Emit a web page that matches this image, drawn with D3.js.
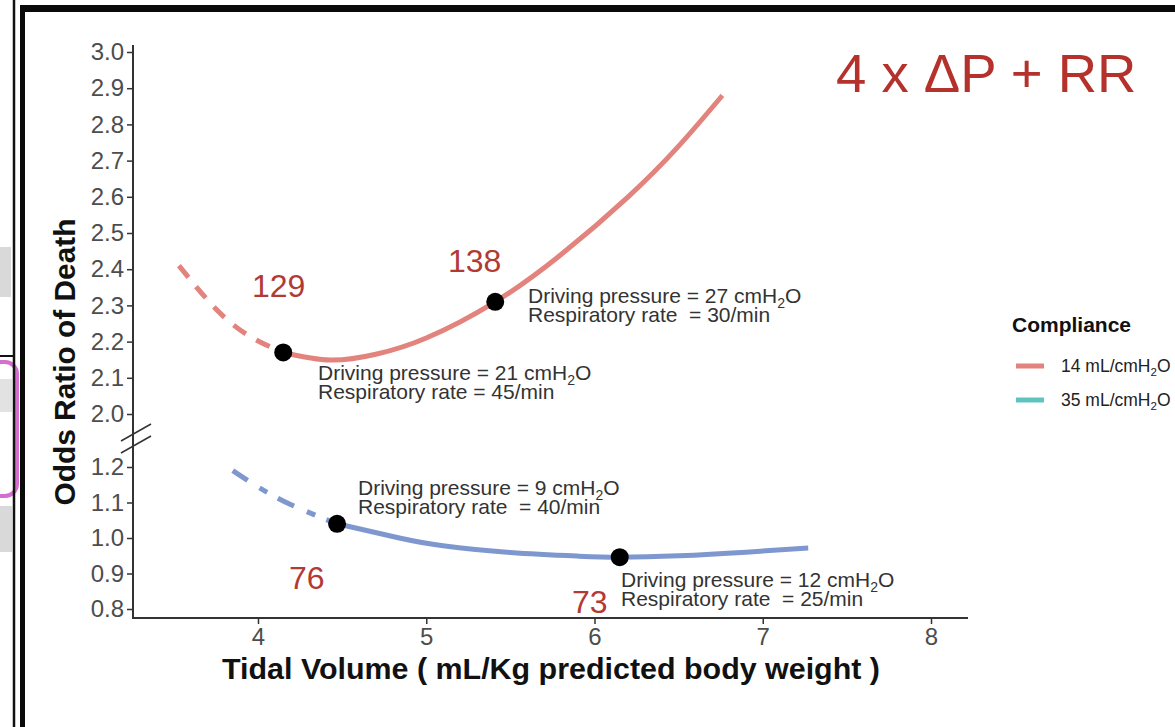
<!DOCTYPE html>
<html>
<head>
<meta charset="utf-8">
<script src="https://cdn.jsdelivr.net/npm/d3@7"></script>
<style>
  html, body { margin: 0; padding: 0; background: #fff; }
  svg { display: block; font-family: "Liberation Sans", Arial, Helvetica, sans-serif; }
</style>
</head>
<body>
<svg id="chart" width="1175" height="727"></svg>
<script>
// ---------------- data ----------------
const xTicks = [4, 5, 6, 7, 8];
const yTicksUpper = [2.0, 2.1, 2.2, 2.3, 2.4, 2.5, 2.6, 2.7, 2.8, 2.9, 3.0];
const yTicksLower = [0.8, 0.9, 1.0, 1.1, 1.2];

// Compliance 14 mL/cmH2O (upper panel)
const red14Dashed = [[3.53, 2.41], [3.75, 2.29], [3.95, 2.215], [4.15, 2.17]];
const red14Solid  = [[4.15, 2.17], [4.43, 2.149], [4.7, 2.165], [5.0, 2.21], [5.41, 2.31],
                     [5.8, 2.44], [6.2, 2.60], [6.5, 2.74], [6.76, 2.88]];
// Compliance 35 mL/cmH2O (lower panel)
const blue35Dashed = [[3.85, 1.19], [4.0, 1.144], [4.2, 1.093], [4.47, 1.04]];
const blue35Solid  = [[4.47, 1.04], [4.84, 1.0], [5.1, 0.978], [5.5, 0.959], [5.9, 0.949],
                      [6.15, 0.946], [6.5, 0.95], [6.9, 0.96], [7.27, 0.972]];

const points = [
  { x: 4.15, y: 2.17, dp: "21", rr: "45", score: "129" },
  { x: 5.41, y: 2.31, dp: "27", rr: "30", score: "138" },
  { x: 4.47, y: 1.04, dp: "9",  rr: "40", score: "76" },
  { x: 6.15, y: 0.946, dp: "12", rr: "25", score: "73" }
];

const legendItems = [
  { label: "14 mL/cmH", color: "#e3837d" },
  { label: "35 mL/cmH", color: "#5fc3c0" }
];

// ---------------- drawing ----------------
const svg = d3.select("#chart");

// screenshot surroundings
svg.append("rect").attr("x", 0).attr("y", 247).attr("width", 11).attr("height", 50).attr("fill", "#d9d9d9");
svg.append("rect").attr("x", 0).attr("y", 379).attr("width", 12).attr("height", 33).attr("fill", "#e2e2e2");
svg.append("rect").attr("x", 0).attr("y", 506).attr("width", 12).attr("height", 46).attr("fill", "#d9d9d9");
svg.append("line").attr("x1", 0).attr("x2", 14).attr("y1", 356).attr("y2", 356).attr("stroke", "#111").attr("stroke-width", 2);
svg.append("rect").attr("x", -12).attr("y", 362).attr("width", 29).attr("height", 134).attr("rx", 12)
  .attr("fill", "none").attr("stroke", "#d46fd0").attr("stroke-width", 4);
svg.append("line").attr("x1", 14).attr("x2", 14).attr("y1", 0).attr("y2", 727).attr("stroke", "#111").attr("stroke-width", 2.5);
// frame
svg.append("rect").attr("x", 20).attr("y", 5).attr("width", 1160).attr("height", 7).attr("fill", "#0a0a0a");
svg.append("rect").attr("x", 20).attr("y", 5).attr("width", 5).attr("height", 722).attr("fill", "#0a0a0a");

// scales
const x = d3.scaleLinear().domain([4, 8]).range([258, 931]);
const yU = d3.scaleLinear().domain([2.0, 3.0]).range([414, 52]);
const yL = d3.scaleLinear().domain([0.8, 1.2]).range([609, 467]);
const yAny = v => (v >= 1.6 ? yU(v) : yL(v));

const axisColor = "#333";
const tickColor = "#4d4d4d";

// y axes
function styleAxis(g) {
  g.select(".domain").remove();
  g.selectAll(".tick line").attr("stroke", axisColor).attr("stroke-width", 1.5);
  g.selectAll(".tick text").attr("fill", tickColor).attr("font-size", 24)
    .attr("font-family", "'Liberation Sans', Arial, sans-serif");
}
svg.append("g").attr("transform", "translate(133,0)")
  .call(d3.axisLeft(yU).tickValues(yTicksUpper).tickFormat(d3.format(".1f")).tickSize(6).tickPadding(3))
  .call(styleAxis);
svg.append("g").attr("transform", "translate(133,0)")
  .call(d3.axisLeft(yL).tickValues(yTicksLower).tickFormat(d3.format(".1f")).tickSize(6).tickPadding(3))
  .call(styleAxis);
svg.append("line").attr("x1", 133).attr("x2", 133).attr("y1", 45).attr("y2", 619)
  .attr("stroke", axisColor).attr("stroke-width", 2);

// x axis
svg.append("g").attr("transform", "translate(0,618)")
  .call(d3.axisBottom(x).tickValues(xTicks).tickFormat(d3.format("d")).tickSize(6).tickPadding(4))
  .call(g => {
    g.select(".domain").remove();
    g.selectAll(".tick line").attr("stroke", axisColor).attr("stroke-width", 1.5);
    g.selectAll(".tick text").attr("fill", tickColor).attr("font-size", 24)
      .attr("font-family", "'Liberation Sans', Arial, sans-serif");
  });
svg.append("line").attr("x1", 132).attr("x2", 968).attr("y1", 618).attr("y2", 618)
  .attr("stroke", axisColor).attr("stroke-width", 2);

// axis break marks
[0, 12].forEach(dy => {
  svg.append("line").attr("x1", 121).attr("y1", 441 + dy).attr("x2", 151).attr("y2", 424 + dy)
    .attr("stroke", axisColor).attr("stroke-width", 1.5);
});

// curves
const line = d3.line().x(d => x(d[0])).y(d => yAny(d[1])).curve(d3.curveNatural);
const red = "#e3837d", blue = "#7e98cf";
svg.append("path").attr("d", line(red14Dashed)).attr("fill", "none").attr("stroke", red)
  .attr("stroke-width", 5).attr("stroke-dasharray", "15,12");
svg.append("path").attr("d", line(red14Solid)).attr("fill", "none").attr("stroke", red)
  .attr("stroke-width", 5).attr("stroke-linecap", "butt");
svg.append("path").attr("d", line(blue35Dashed)).attr("fill", "none").attr("stroke", blue)
  .attr("stroke-width", 5).attr("stroke-dasharray", "18,14,9,12");
svg.append("path").attr("d", line(blue35Solid)).attr("fill", "none").attr("stroke", blue)
  .attr("stroke-width", 5);

// points
svg.selectAll("circle.pt").data(points).join("circle").attr("class", "pt")
  .attr("cx", d => x(d.x)).attr("cy", d => yAny(d.y)).attr("r", 9).attr("fill", "#000");

// annotations
const annoPos = {
  "21": { x: 318, y: 380 },
  "27": { x: 528, y: 303 },
  "9":  { x: 358, y: 495 },
  "12": { x: 621, y: 587 }
};
const annoSpace = { "21": "", "27": " ", "9": " ", "12": " " };
const scorePos = {
  "129": { x: 252, y: 297 },
  "138": { x: 448, y: 272 },
  "76":  { x: 289, y: 589 },
  "73":  { x: 572, y: 613 }
};
points.forEach(p => {
  const a = annoPos[p.dp];
  const t1 = svg.append("text").attr("x", a.x).attr("y", a.y).attr("font-size", 21).attr("fill", "#333");
  t1.append("tspan").text(`Driving pressure = ${p.dp} cmH`);
  t1.append("tspan").attr("font-size", 14).attr("dy", 5).text("2");
  t1.append("tspan").attr("dy", -5).text("O");
  svg.append("text").attr("x", a.x).attr("y", a.y + 19).attr("font-size", 21).attr("fill", "#333")
    .attr("xml:space", "preserve").style("white-space", "pre")
    .text(`Respiratory rate ${annoSpace[p.dp]}= ${p.rr}/min`);
  const s = scorePos[p.score];
  svg.append("text").attr("x", s.x).attr("y", s.y).attr("font-size", 32).attr("fill", "#b23a35").text(p.score);
});

// title
svg.append("text").attr("x", 836).attr("y", 92).attr("font-size", 54.5).attr("fill", "#b5322c")
  .text("4 x \u0394P + RR");

// axis titles
svg.append("text").attr("transform", "translate(75,362) rotate(-90)").attr("text-anchor", "middle")
  .attr("font-size", 29).attr("font-weight", "bold").attr("fill", "#111")
  .attr("textLength", 287).attr("lengthAdjust", "spacingAndGlyphs")
  .text("Odds Ratio of Death");
svg.append("text").attr("x", 551).attr("y", 679).attr("text-anchor", "middle")
  .attr("font-size", 29).attr("font-weight", "bold").attr("fill", "#111")
  .attr("textLength", 658).attr("lengthAdjust", "spacingAndGlyphs")
  .text("Tidal Volume ( mL/Kg predicted body weight )");

// legend
svg.append("text").attr("x", 1012).attr("y", 332).attr("font-size", 21).attr("font-weight", "bold")
  .attr("fill", "#111").text("Compliance");
legendItems.forEach((d, i) => {
  const cy = 366 + i * 34;
  svg.append("line").attr("x1", 1016).attr("x2", 1044).attr("y1", cy).attr("y2", cy)
    .attr("stroke", d.color).attr("stroke-width", 5);
  const t = svg.append("text").attr("x", 1061).attr("y", cy + 6).attr("font-size", 17.5).attr("fill", "#222");
  t.append("tspan").text(d.label);
  t.append("tspan").attr("font-size", 11.5).attr("dy", 4).text("2");
  t.append("tspan").attr("dy", -4).text("O");
});
</script>
</body>
</html>
